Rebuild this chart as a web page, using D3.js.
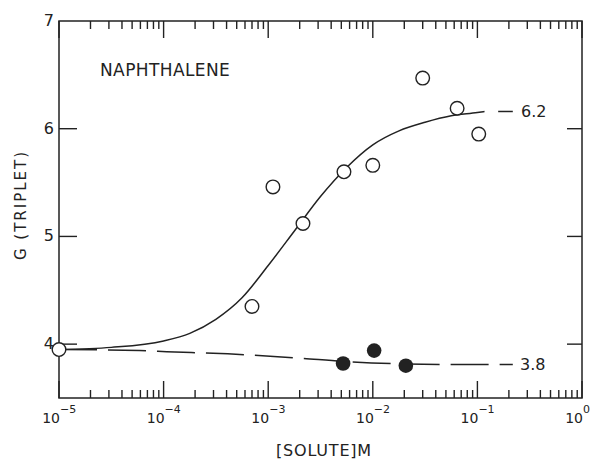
<!DOCTYPE html>
<html>
<head>
<meta charset="utf-8">
<script src="https://cdn.jsdelivr.net/npm/d3@7"></script>
<style>
  body { margin: 0; background: #fff; }
  text { font-family: "DejaVu Sans", sans-serif; fill: #222; }
</style>
</head>
<body>
<div id="chart"></div>
<script>
// decades on the x axis and their exponent labels
var decades = [1e-5, 1e-4, 1e-3, 1e-2, 1e-1, 1];
var decadeExp = ["\u22125", "\u22124", "\u22123", "\u22122", "\u22121", "0"];
var yTicks = [4, 5, 6];
var yLabels = [4, 5, 6, 7];

// open circles: G(triplet) for naphthalene
var openConc = [1e-5, 7.0e-4, 1.11e-3, 2.15e-3, 5.3e-3, 1.0e-2, 3.0e-2, 6.4e-2, 1.03e-1];
var openG = [3.95, 4.35, 5.46, 5.12, 5.60, 5.66, 6.47, 6.19, 5.95];

// filled circles
var filledConc = [5.2e-3, 1.03e-2, 2.07e-2];
var filledG = [3.82, 3.94, 3.80];

// solid fitted curve
var fitConc = [1e-5, 3.16e-5, 1e-4, 1.78e-4, 3.16e-4, 5.62e-4, 1e-3, 1.78e-3, 3.16e-3,
    5.62e-3, 1e-2, 1.78e-2, 3.16e-2, 5.62e-2, 0.1, 0.117];
var fitG = [3.95, 3.97, 4.03, 4.10, 4.23, 4.43, 4.73, 5.05, 5.37,
    5.64, 5.85, 5.98, 6.06, 6.12, 6.15, 6.16];
var fitTailConc = [0.158, 0.218];
var fitTailG = [6.16, 6.16];

// long-dashed curve through the filled circles
var dashConc = [1e-5, 5.9e-5, 1.07e-4, 4.1e-4, 2.0e-3, 5.2e-3, 2.1e-2, 5.5e-2, 0.218];
var dashG = [3.95, 3.94, 3.93, 3.91, 3.87, 3.84, 3.815, 3.81, 3.81];

var margin = {top: 21, left: 59};
var W = 593, H = 460;
var plotW = 523, plotH = 377;

var svg = d3.select("#chart").append("svg")
    .attr("width", W)
    .attr("height", H);

var x = d3.scaleLog().domain([1e-5, 1]).range([margin.left, margin.left + plotW]);
var y = d3.scaleLinear().domain([3.5, 7]).range([margin.top + plotH, margin.top]);

var ink = "#222";
var minorTicks = x.ticks().filter(function (d) {
    return decades.every(function (m) { return Math.abs(Math.log10(d / m)) > 1e-6; });
});

// frame
svg.append("rect")
    .attr("x", x(1e-5)).attr("y", y(7))
    .attr("width", x(1) - x(1e-5)).attr("height", y(3.5) - y(7))
    .attr("fill", "none").attr("stroke", ink).attr("stroke-width", 1.5);

// ticks on all four sides, all pointing inward
function xTicks(cls, values, yPos, len) {
    svg.selectAll("." + cls).data(values).enter().append("path")
        .attr("class", cls)
        .attr("d", function (d) { return "M" + x(d) + "," + yPos + "v" + len; })
        .attr("fill", "none")
        .attr("stroke", ink).attr("stroke-width", 1.4);
}
function yTickLines(cls, values, xPos, len) {
    svg.selectAll("." + cls).data(values).enter().append("path")
        .attr("class", cls)
        .attr("d", function (d) { return "M" + xPos + "," + y(d) + "h" + len; })
        .attr("fill", "none")
        .attr("stroke", ink).attr("stroke-width", 1.4);
}

xTicks("bminor", minorTicks, y(3.5), -8);
xTicks("bmajor", decades, y(3.5), -17);
xTicks("tminor", minorTicks, y(7), 8);
xTicks("tmajor", decades, y(7), 17);
yTickLines("lticks", yTicks, x(1e-5), 18);
yTickLines("rticks", yTicks, x(1), -15);

// y tick labels
svg.selectAll(".ylab").data(yLabels).enter().append("text")
    .attr("class", "ylab")
    .attr("x", margin.left - 5)
    .attr("y", function (d) { return y(d) + 5; })
    .attr("text-anchor", "end")
    .style("font-size", "16px")
    .text(function (d) { return d; });

// x tick labels: 10 with superscript
svg.selectAll(".xlab").data(decades).enter().append("text")
    .attr("class", "xlab")
    .attr("x", function (d) { return x(d) + 1; })
    .attr("y", 423)
    .attr("text-anchor", "end")
    .style("font-size", "14px")
    .text("10");
svg.selectAll(".xexp").data(decades).enter().append("text")
    .attr("class", "xexp")
    .attr("x", function (d) { return x(d) + 1; })
    .attr("y", 413)
    .style("font-size", "11px")
    .text(function (d, i) { return decadeExp[i]; });

// axis titles
svg.append("text")
    .attr("x", 324).attr("y", 456)
    .attr("text-anchor", "middle")
    .style("font-size", "16px")
    .style("letter-spacing", "0.8px")
    .text("[SOLUTE]M");

svg.append("text")
    .attr("transform", "translate(26,205) rotate(-90)")
    .attr("text-anchor", "middle")
    .style("font-size", "15px")
    .style("letter-spacing", "2px")
    .text("G (TRIPLET)");

svg.append("text")
    .attr("x", 100).attr("y", 76)
    .style("font-size", "17px")
    .style("letter-spacing", "0.4px")
    .text("NAPHTHALENE");

// curves
var line = d3.line()
    .x(function (d) { return x(d[0]); })
    .y(function (d) { return y(d[1]); })
    .curve(d3.curveMonotoneX);

svg.append("path")
    .datum(d3.zip(fitConc, fitG))
    .attr("d", line)
    .attr("fill", "none").attr("stroke", ink).attr("stroke-width", 1.5);

svg.append("path")
    .datum(d3.zip(fitTailConc, fitTailG))
    .attr("d", line)
    .attr("fill", "none").attr("stroke", ink).attr("stroke-width", 1.5);

svg.append("path")
    .datum(d3.zip(dashConc, dashG))
    .attr("d", line)
    .attr("fill", "none").attr("stroke", ink).attr("stroke-width", 1.5)
    .attr("stroke-dasharray", "38,11");

// end labels
svg.append("text")
    .attr("x", 521).attr("y", y(6.16) + 5.5)
    .style("font-size", "16px")
    .text("6.2");
svg.append("text")
    .attr("x", 520).attr("y", y(3.81) + 5.5)
    .style("font-size", "16px")
    .text("3.8");

// points
svg.selectAll(".open").data(d3.zip(openConc, openG)).enter().append("circle")
    .attr("class", "open")
    .attr("cx", function (d) { return x(d[0]); })
    .attr("cy", function (d) { return y(d[1]); })
    .attr("r", 6.8)
    .attr("fill", "#fff")
    .attr("stroke", ink).attr("stroke-width", 1.4);

svg.selectAll(".filled").data(d3.zip(filledConc, filledG)).enter().append("circle")
    .attr("class", "filled")
    .attr("cx", function (d) { return x(d[0]); })
    .attr("cy", function (d) { return y(d[1]); })
    .attr("r", 7.3)
    .attr("fill", ink);
</script>
</body>
</html>
